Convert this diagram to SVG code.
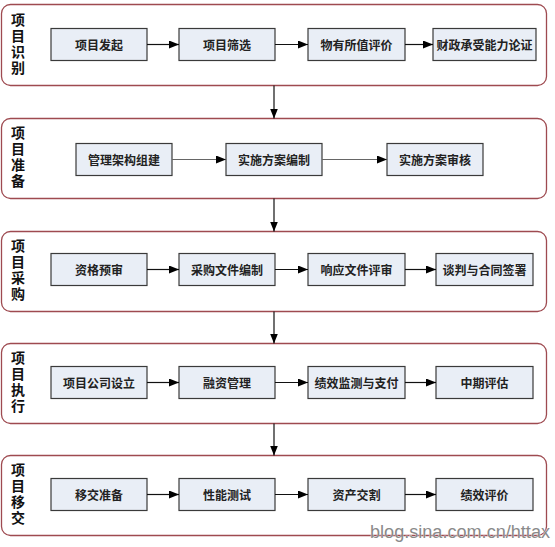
<svg xmlns="http://www.w3.org/2000/svg" width="555" height="547" viewBox="0 0 555 547">
<style>
.stage{fill:#ffffff;stroke:#9e4a50;stroke-width:1.3}
.box{fill:#e9eef6;stroke:#3a3a3a;stroke-width:1.2}
.bt{font-family:"Noto Sans CJK SC","Noto Sans CJK JP",sans-serif;font-size:12px;font-weight:bold;fill:#222;text-anchor:middle;dominant-baseline:central}
.st{font-family:"Noto Sans CJK SC","Noto Sans CJK JP",sans-serif;font-size:14px;font-weight:bold;fill:#111;text-anchor:middle;writing-mode:vertical-rl;letter-spacing:2px}
.conn{stroke:#111;stroke-width:1.2;fill:none;marker-end:url(#ah)}
.wm{font-family:"Liberation Sans",Arial,sans-serif;font-size:18px;fill:#8a8a8a;stroke:#ffffff;stroke-width:0.6;paint-order:stroke}
</style>
<defs>
<marker id="ah" markerWidth="10" markerHeight="8" refX="10" refY="4" orient="auto" markerUnits="userSpaceOnUse">
<path d="M0,0 L10,4 L0,8 Z" fill="#000"/>
</marker>
</defs>
<rect width="555" height="547" fill="#ffffff"/>

<g id="stage1">
<rect class="stage" x="1.5" y="4.5" width="545" height="81" rx="9"/>
<text class="st" x="18" y="45">项目识别</text>
</g>
<g id="n1a"><rect class="box" x="51" y="28.5" width="96" height="32"/><text class="bt" x="99" y="44.5">项目发起</text></g>
<g id="n1b"><rect class="box" x="179" y="28.5" width="96" height="32"/><text class="bt" x="227" y="44.5">项目筛选</text></g>
<g id="n1c"><rect class="box" x="308" y="28.5" width="97" height="32"/><text class="bt" x="356.5" y="44.5">物有所值评价</text></g>
<g id="n1d"><rect class="box" x="433" y="28.5" width="103" height="32"/><text class="bt" x="484.5" y="44.5">财政承受能力论证</text></g>

<g id="stage2">
<rect class="stage" x="1.5" y="118.5" width="545" height="80" rx="9"/>
<text class="st" x="18" y="158">项目准备</text>
</g>
<g id="n2a"><rect class="box" x="76" y="143.5" width="96" height="32"/><text class="bt" x="124" y="159.5">管理架构组建</text></g>
<g id="n2b"><rect class="box" x="226" y="143.5" width="96" height="32"/><text class="bt" x="274" y="159.5">实施方案编制</text></g>
<g id="n2c"><rect class="box" x="387" y="143.5" width="96" height="32"/><text class="bt" x="435" y="159.5">实施方案审核</text></g>

<g id="stage3">
<rect class="stage" x="1.5" y="231.5" width="545" height="80" rx="9"/>
<text class="st" x="18" y="271">项目采购</text>
</g>
<g id="n3a"><rect class="box" x="51" y="253.5" width="96" height="32"/><text class="bt" x="99" y="269.5">资格预审</text></g>
<g id="n3b"><rect class="box" x="179" y="253.5" width="96" height="32"/><text class="bt" x="227" y="269.5">采购文件编制</text></g>
<g id="n3c"><rect class="box" x="308" y="253.5" width="97" height="32"/><text class="bt" x="356.5" y="269.5">响应文件评审</text></g>
<g id="n3d"><rect class="box" x="436" y="253.5" width="97" height="32"/><text class="bt" x="484.5" y="269.5">谈判与合同签署</text></g>

<g id="stage4">
<rect class="stage" x="1.5" y="343.5" width="545" height="80" rx="9"/>
<text class="st" x="18" y="383">项目执行</text>
</g>
<g id="n4a"><rect class="box" x="51" y="366.5" width="96" height="32"/><text class="bt" x="99" y="382.5">项目公司设立</text></g>
<g id="n4b"><rect class="box" x="179" y="366.5" width="96" height="32"/><text class="bt" x="227" y="382.5">融资管理</text></g>
<g id="n4c"><rect class="box" x="308" y="366.5" width="97" height="32"/><text class="bt" x="356.5" y="382.5">绩效监测与支付</text></g>
<g id="n4d"><rect class="box" x="436" y="366.5" width="97" height="32"/><text class="bt" x="484.5" y="382.5">中期评估</text></g>

<g id="stage5">
<rect class="stage" x="1.5" y="455.5" width="545" height="80" rx="9"/>
<text class="st" x="18" y="495">项目移交</text>
</g>
<g id="n5a"><rect class="box" x="51" y="478.5" width="96" height="32"/><text class="bt" x="99" y="494.5">移交准备</text></g>
<g id="n5b"><rect class="box" x="179" y="478.5" width="96" height="32"/><text class="bt" x="227" y="494.5">性能测试</text></g>
<g id="n5c"><rect class="box" x="308" y="478.5" width="97" height="32"/><text class="bt" x="356.5" y="494.5">资产交割</text></g>
<g id="n5d"><rect class="box" x="436" y="478.5" width="97" height="32"/><text class="bt" x="484.5" y="494.5">绩效评价</text></g>

<g id="connectors">
<line class="conn" x1="147" y1="44.5" x2="179" y2="44.5"/>
<line class="conn" x1="275" y1="44.5" x2="308" y2="44.5"/>
<line class="conn" x1="405" y1="44.5" x2="433" y2="44.5"/>
<line class="conn" x1="274" y1="85.5" x2="274" y2="118.5"/>
<line class="conn" x1="172" y1="159.5" x2="226" y2="159.5" style="stroke:#666"/>
<line class="conn" x1="322" y1="159.5" x2="387" y2="159.5" style="stroke:#666"/>
<line class="conn" x1="274" y1="198.5" x2="274" y2="231.5"/>
<line class="conn" x1="147" y1="269.5" x2="179" y2="269.5"/>
<line class="conn" x1="275" y1="269.5" x2="308" y2="269.5"/>
<line class="conn" x1="405" y1="269.5" x2="436" y2="269.5"/>
<line class="conn" x1="274" y1="311.5" x2="274" y2="343.5"/>
<line class="conn" x1="147" y1="382.5" x2="179" y2="382.5"/>
<line class="conn" x1="275" y1="382.5" x2="308" y2="382.5"/>
<line class="conn" x1="405" y1="382.5" x2="436" y2="382.5"/>
<line class="conn" x1="274" y1="423.5" x2="274" y2="455.5"/>
<line class="conn" x1="147" y1="494.5" x2="179" y2="494.5"/>
<line class="conn" x1="275" y1="494.5" x2="308" y2="494.5"/>
<line class="conn" x1="405" y1="494.5" x2="436" y2="494.5"/>
</g>

<text class="wm" x="370" y="538" textLength="180" lengthAdjust="spacingAndGlyphs">blog.sina.com.cn/httax</text>
</svg>
